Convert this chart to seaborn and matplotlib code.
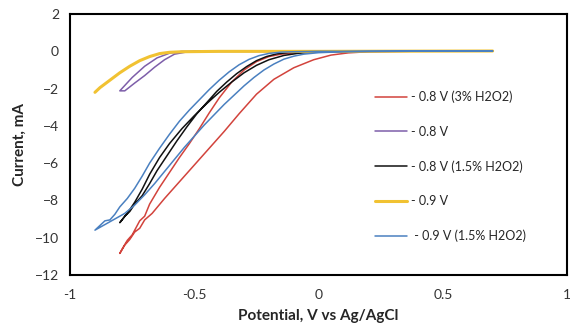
import pandas as pd
import matplotlib
matplotlib.use("Agg")
import matplotlib.pyplot as plt
import seaborn as sns

sns.set_style("white")
plt.rcParams['font.family'] = ['Lato', 'DejaVu Sans']

# valores (potencial em V, corrente em mA), ida + volta
red_v = [0.7, 0.4, 0.2, 0.12, 0.05, -0.02, -0.1, -0.18, -0.25, -0.32, -0.38, -0.44, -0.5, -0.56, -0.62,
         -0.67, -0.7, -0.72, -0.74, -0.76, -0.78, -0.8,
         -0.79, -0.77, -0.75, -0.72, -0.7, -0.68, -0.64, -0.6, -0.56, -0.52, -0.48, -0.44, -0.4, -0.35, -0.3,
         -0.25, -0.2, -0.15, -0.1, -0.05, 0.05, 0.2, 0.7]
red_i = [0.02, 0.01, -0.02, -0.08, -0.2, -0.45, -0.88, -1.5, -2.3, -3.35, -4.3, -5.2, -6.1, -7.0, -7.9,
         -8.7, -9.05, -9.5, -9.7, -10.1, -10.4, -10.85,
         -10.6, -10.15, -9.85, -9.1, -8.85, -8.2, -7.3, -6.5, -5.7, -4.95, -4.15, -3.3, -2.5, -1.65, -1.0,
         -0.55, -0.28, -0.15, -0.08, -0.04, -0.01, 0.0, 0.02]

purple_v = [0.7, 0.0, -0.55, -0.6, -0.65, -0.7, -0.75, -0.8,
            -0.78, -0.74, -0.7, -0.66, -0.62, -0.58, -0.53, -0.5, 0.0, 0.7]
purple_i = [0.02, 0.0, 0.0, -0.1, -0.35, -0.8, -1.4, -2.12,
            -2.12, -1.7, -1.3, -0.85, -0.45, -0.15, -0.03, 0.0, 0.0, 0.02]

black_v = [0.7, 0.3, 0.1, 0.0, -0.08, -0.14, -0.2, -0.25, -0.3, -0.35, -0.4, -0.45, -0.5, -0.55, -0.6,
           -0.64, -0.68, -0.71, -0.74, -0.77, -0.8,
           -0.78, -0.76, -0.74, -0.71, -0.68, -0.65, -0.61, -0.57, -0.53, -0.49, -0.45, -0.41, -0.37, -0.33,
           -0.29, -0.25, -0.21, -0.17, -0.12, -0.05, 0.1, 0.7]
black_i = [0.02, 0.01, 0.0, -0.03, -0.1, -0.22, -0.45, -0.75, -1.15, -1.65, -2.2, -2.8, -3.45, -4.15, -4.95,
           -5.7, -6.6, -7.4, -8.1, -8.7, -9.2,
           -8.85, -8.6, -8.2, -7.75, -7.1, -6.4, -5.6, -4.8, -4.05, -3.35, -2.75, -2.15, -1.65, -1.2,
           -0.82, -0.5, -0.28, -0.14, -0.06, -0.02, 0.0, 0.02]

yellow_v = [0.7, 0.0, -0.4, -0.55, -0.6, -0.64, -0.68, -0.72, -0.76, -0.8, -0.84, -0.88, -0.9]
yellow_i = [0.02, 0.0, 0.0, -0.02, -0.05, -0.12, -0.28, -0.5, -0.8, -1.15, -1.55, -1.95, -2.2]

blue_v = [0.7, 0.2, 0.1, 0.0, -0.06, -0.1, -0.14, -0.18, -0.22, -0.26, -0.3, -0.34, -0.38, -0.42, -0.46,
          -0.5, -0.54, -0.58, -0.62, -0.66, -0.7, -0.74, -0.78, -0.82, -0.86, -0.9,
          -0.88, -0.86, -0.84, -0.82, -0.8, -0.77, -0.74, -0.71, -0.68, -0.64, -0.6, -0.56, -0.52, -0.48,
          -0.44, -0.4, -0.36, -0.32, -0.28, -0.24, -0.2, -0.15, -0.1, 0.0, 0.2, 0.7]
blue_i = [0.02, 0.0, -0.02, -0.07, -0.15, -0.26, -0.42, -0.68, -1.0, -1.4, -1.85, -2.35, -2.85, -3.4, -3.95,
          -4.55, -5.15, -5.8, -6.45, -7.1, -7.7, -8.25, -8.7, -9.0, -9.3, -9.6,
          -9.35, -9.1, -9.05, -8.75, -8.35, -7.9, -7.35, -6.7, -6.0, -5.2, -4.45, -3.75, -3.15, -2.6,
          -2.05, -1.55, -1.1, -0.72, -0.43, -0.23, -0.11, -0.04, -0.02, 0.0, 0.0, 0.02]

labels = ["- 0.8 V (3% H2O2)", "- 0.8 V", "- 0.8 V (1.5% H2O2)", "- 0.9 V", " - 0.9 V (1.5% H2O2)"]
colors = ["#D2433C", "#7D5EA9", "#111111", "#F1C232", "#4A80C0"]
widths = [1.1, 1.1, 1.1, 2.2, 1.1]
series = [(red_v, red_i), (purple_v, purple_i), (black_v, black_i), (yellow_v, yellow_i), (blue_v, blue_i)]

fig, ax = plt.subplots(figsize=(5.7, 3.36), dpi=100)
fig.subplots_adjust(left=0.123, right=0.995, bottom=0.182, top=0.958)

for (v, i), lab, cor, lw in zip(series, labels, colors, widths):
    df = pd.DataFrame({"V": v, "I": i})
    sns.lineplot(data=df, x="V", y="I", sort=False, estimator=None, color=cor, lw=lw, label=lab, ax=ax)

ax.set_xlim(-1, 1)
ax.set_ylim(-12, 2)
ax.set_xticks([-1, -0.5, 0, 0.5, 1])
ax.set_xticklabels(["-1", "-0.5", "0", "0.5", "1"])
ax.set_yticks(range(-12, 3, 2))
ax.tick_params(axis='x', direction='in', length=4, width=1, labelsize=10, pad=10, colors='#222222')
ax.tick_params(axis='y', direction='out', length=4, width=1, labelsize=10, pad=4, colors='#222222')
ax.tick_params(axis='both', labelcolor='#333333')
for s in ax.spines.values():
    s.set_color('black')
    s.set_linewidth(1.5)

ax.set_xlabel("Potential, V vs Ag/AgCl", fontsize=11, fontweight='bold', labelpad=6)
ax.set_ylabel("Current, mA", fontsize=11, fontweight='bold', labelpad=6)

ax.legend(loc='upper left', bbox_to_anchor=(0.59, 0.75), frameon=False, fontsize=9,
          labelspacing=1.8, handlelength=2.6, handletextpad=0.3, borderpad=0.4)

plt.savefig("out.png", dpi=100)
